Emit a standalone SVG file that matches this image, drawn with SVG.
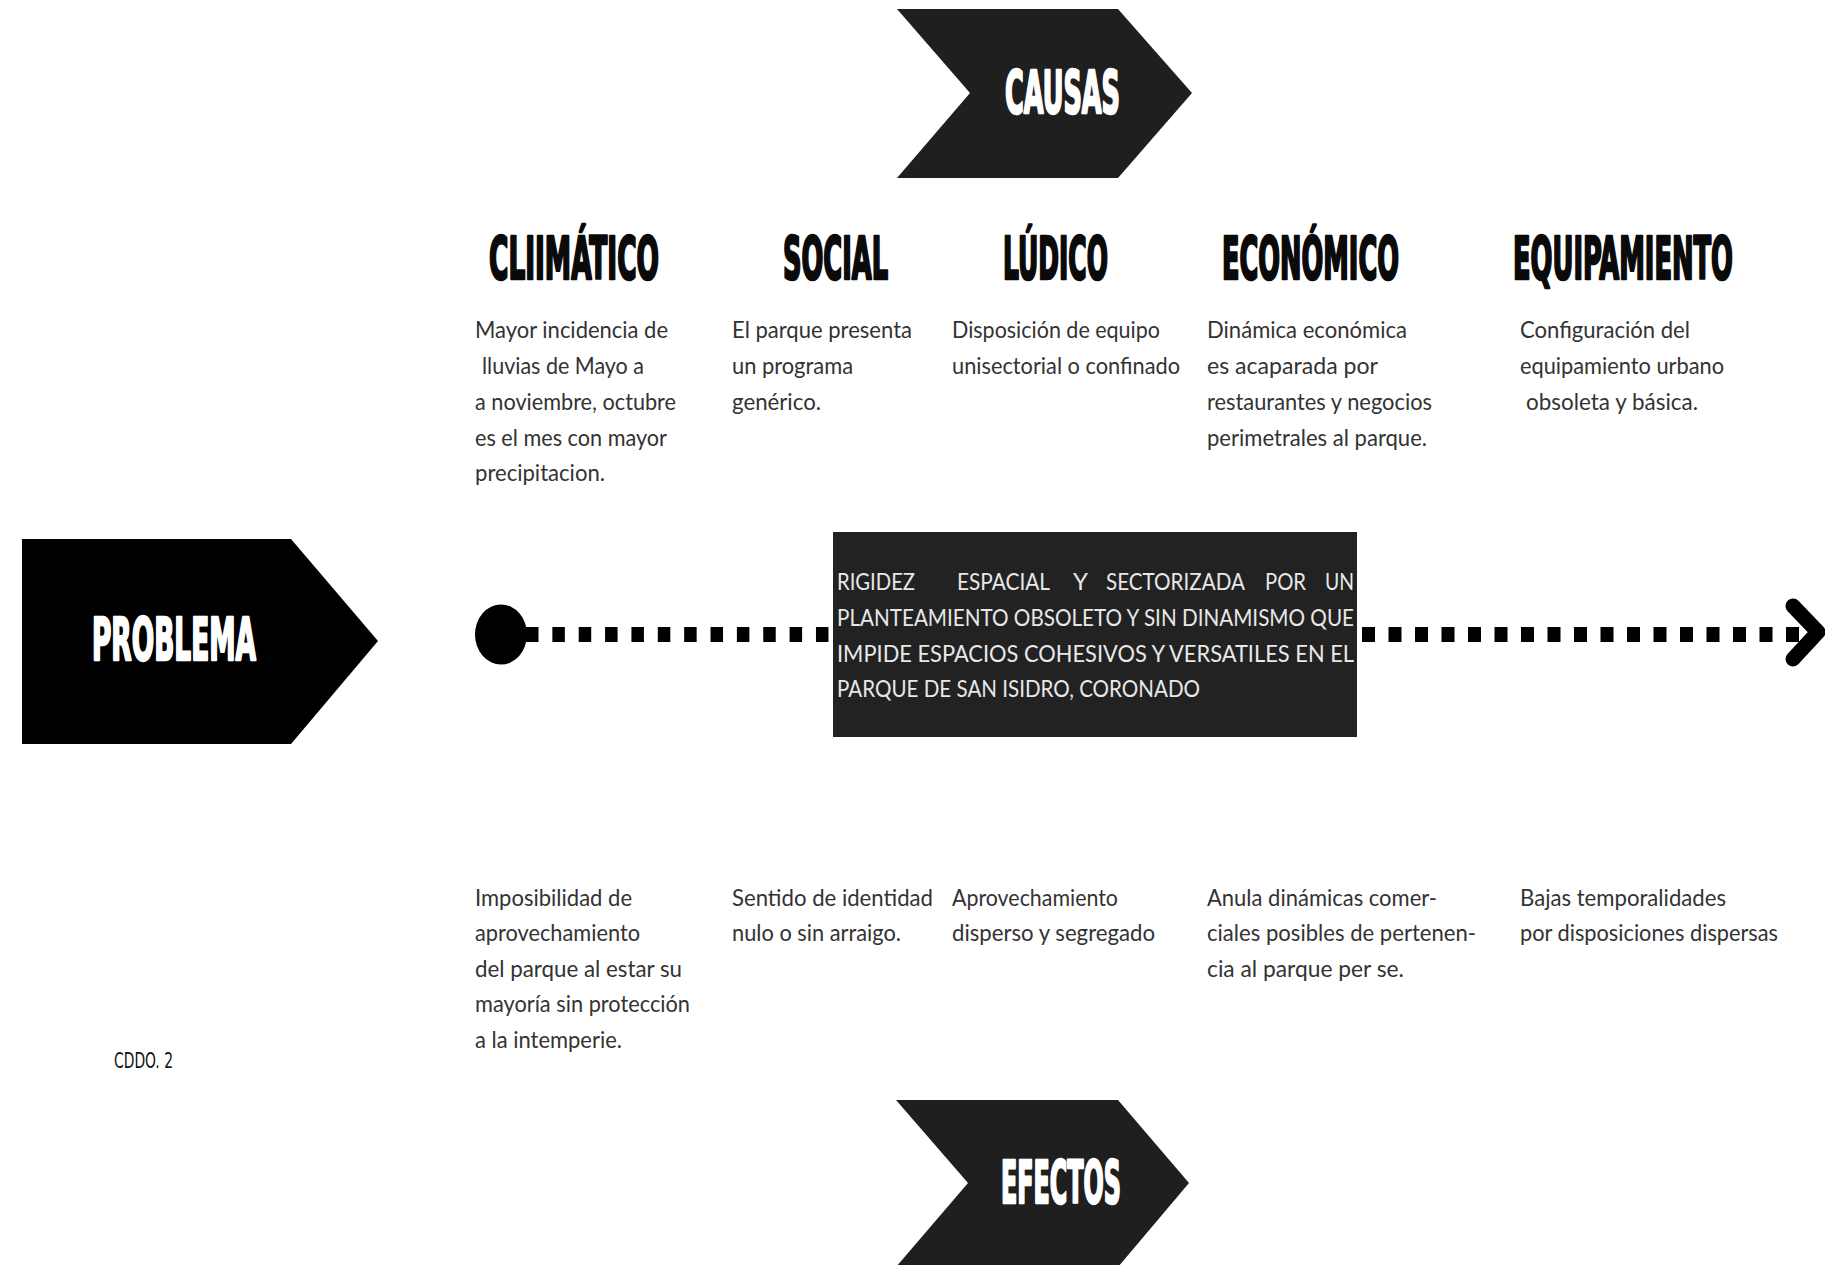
<svg xmlns="http://www.w3.org/2000/svg" width="1825" height="1265" viewBox="0 0 1825 1265">
<style>
.hd{font-family:"DejaVu Sans Condensed","DejaVu Sans",sans-serif;font-stretch:condensed;font-weight:bold;font-size:28px;fill:#0a0a0a;stroke:#0a0a0a;stroke-width:1.3px;stroke-linejoin:round}
.wh{font-family:"DejaVu Sans Condensed","DejaVu Sans",sans-serif;font-stretch:condensed;font-weight:bold;font-size:28px;fill:#ffffff;stroke:#ffffff;stroke-width:1.2px;stroke-linejoin:round}
.bd{font-family:Lato,"Noto Sans",sans-serif;font-size:23px;fill:#333333}
.bx{font-family:Lato,"Noto Sans",sans-serif;font-size:24px;fill:#e8e8e8}
.lb{font-family:"DejaVu Sans Condensed","Liberation Sans",sans-serif;font-stretch:condensed;font-size:22px;fill:#111}
.dash{stroke:#000;stroke-width:15;fill:none}
</style>
<rect width="1825" height="1265" fill="#ffffff"/>

<g id="causas">
<polygon points="897,9 1118,9 1192,93 1118,178 897,178 970,93" fill="#1f1f1f"/>
<text class="wh" transform="translate(1005,113) scale(1,2.07)" textLength="115" lengthAdjust="spacingAndGlyphs">CAUSAS</text>
</g>

<g id="problema">
<polygon points="22,539 291,539 378,641 291,744 22,744" fill="#000"/>
<text class="wh" transform="translate(92,660) scale(1,2.07)" textLength="164" lengthAdjust="spacingAndGlyphs">PROBLEMA</text>
</g>

<g id="efectos">
<polygon points="896,1100 1118,1100 1189,1183 1118,1267 896,1267 968,1183" fill="#1f1f1f"/>
<text class="wh" transform="translate(1001,1203) scale(1,2.07)" textLength="120" lengthAdjust="spacingAndGlyphs">EFECTOS</text>
</g>

<g id="climatico">
<text class="hd" transform="translate(489,279) scale(1,2.07)" textLength="170" lengthAdjust="spacingAndGlyphs">CLIIMÁTICO</text>
<text class="bd" x="475" y="338" textLength="193" lengthAdjust="spacingAndGlyphs">Mayor incidencia de</text>
<text class="bd" x="482" y="374" textLength="162" lengthAdjust="spacingAndGlyphs">lluvias de Mayo a</text>
<text class="bd" x="475" y="410" textLength="201" lengthAdjust="spacingAndGlyphs">a noviembre, octubre</text>
<text class="bd" x="475" y="446" textLength="192" lengthAdjust="spacingAndGlyphs">es el mes con mayor</text>
<text class="bd" x="475" y="481" textLength="130" lengthAdjust="spacingAndGlyphs">precipitacion.</text>
</g>

<g id="social">
<text class="hd" transform="translate(783,279) scale(1,2.07)" textLength="105" lengthAdjust="spacingAndGlyphs">SOCIAL</text>
<text class="bd" x="732" y="338" textLength="180" lengthAdjust="spacingAndGlyphs">El parque presenta</text>
<text class="bd" x="732" y="374" textLength="121" lengthAdjust="spacingAndGlyphs">un programa</text>
<text class="bd" x="732" y="410" textLength="89" lengthAdjust="spacingAndGlyphs">genérico.</text>
</g>

<g id="ludico">
<text class="hd" transform="translate(1003,279) scale(1,2.07)" textLength="105" lengthAdjust="spacingAndGlyphs">LÚDICO</text>
<text class="bd" x="952" y="338" textLength="208" lengthAdjust="spacingAndGlyphs">Disposición de equipo</text>
<text class="bd" x="952" y="374" textLength="228" lengthAdjust="spacingAndGlyphs">unisectorial o confinado</text>
</g>

<g id="economico">
<text class="hd" transform="translate(1222,279) scale(1,2.07)" textLength="177" lengthAdjust="spacingAndGlyphs">ECONÓMICO</text>
<text class="bd" x="1207" y="338" textLength="200" lengthAdjust="spacingAndGlyphs">Dinámica económica</text>
<text class="bd" x="1207" y="374" textLength="171" lengthAdjust="spacingAndGlyphs">es acaparada por</text>
<text class="bd" x="1207" y="410" textLength="225" lengthAdjust="spacingAndGlyphs">restaurantes y negocios</text>
<text class="bd" x="1207" y="446" textLength="220" lengthAdjust="spacingAndGlyphs">perimetrales al parque.</text>
</g>

<g id="equipamiento">
<text class="hd" transform="translate(1513,279) scale(1,2.07)" textLength="220" lengthAdjust="spacingAndGlyphs">EQUIPAMIENTO</text>
<text class="bd" x="1520" y="338" textLength="170" lengthAdjust="spacingAndGlyphs">Configuración del</text>
<text class="bd" x="1520" y="374" textLength="204" lengthAdjust="spacingAndGlyphs">equipamiento urbano</text>
<text class="bd" x="1526" y="410" textLength="172" lengthAdjust="spacingAndGlyphs">obsoleta y básica.</text>
</g>

<g id="connectors">
<ellipse cx="501" cy="634.5" rx="26" ry="30" fill="#000"/>
<line class="dash" x1="526" y1="634.5" x2="831" y2="634.5" stroke-dasharray="12.5 13.86"/>
<line class="dash" x1="1362" y1="634.5" x2="1799" y2="634.5" stroke-dasharray="13 13.5"/>
<polyline points="1793,606 1818,632 1793,659" fill="none" stroke="#000" stroke-width="15" stroke-linecap="round" stroke-linejoin="round"/>
</g>

<g id="problema-box">
<rect x="833" y="532" width="524" height="205" fill="#222222"/>
<text class="bx" x="837" y="590" textLength="78" lengthAdjust="spacingAndGlyphs">RIGIDEZ</text>
<text class="bx" x="957" y="590" textLength="93" lengthAdjust="spacingAndGlyphs">ESPACIAL</text>
<text class="bx" x="1073" y="590">Y</text>
<text class="bx" x="1106" y="590" textLength="139" lengthAdjust="spacingAndGlyphs">SECTORIZADA</text>
<text class="bx" x="1265" y="590" textLength="41" lengthAdjust="spacingAndGlyphs">POR</text>
<text class="bx" x="1325" y="590" textLength="29" lengthAdjust="spacingAndGlyphs">UN</text>
<text class="bx" x="837" y="626" textLength="517" lengthAdjust="spacingAndGlyphs">PLANTEAMIENTO OBSOLETO Y SIN DINAMISMO QUE</text>
<text class="bx" x="837" y="662" textLength="517" lengthAdjust="spacingAndGlyphs">IMPIDE ESPACIOS COHESIVOS Y VERSATILES EN EL</text>
<text class="bx" x="837" y="697" textLength="363" lengthAdjust="spacingAndGlyphs">PARQUE DE SAN ISIDRO, CORONADO</text>
</g>

<g id="efectos-climatico">
<text class="bd" x="475" y="906" textLength="157" lengthAdjust="spacingAndGlyphs">Imposibilidad de</text>
<text class="bd" x="475" y="941" textLength="165" lengthAdjust="spacingAndGlyphs">aprovechamiento</text>
<text class="bd" x="475" y="977" textLength="207" lengthAdjust="spacingAndGlyphs">del parque al estar su</text>
<text class="bd" x="475" y="1012" textLength="215" lengthAdjust="spacingAndGlyphs">mayoría sin protección</text>
<text class="bd" x="475" y="1048" textLength="147" lengthAdjust="spacingAndGlyphs">a la intemperie.</text>
</g>

<g id="efectos-social">
<text class="bd" x="732" y="906" textLength="201" lengthAdjust="spacingAndGlyphs">Sentido de identidad</text>
<text class="bd" x="732" y="941" textLength="169" lengthAdjust="spacingAndGlyphs">nulo o sin arraigo.</text>
</g>

<g id="efectos-ludico">
<text class="bd" x="952" y="906" textLength="166" lengthAdjust="spacingAndGlyphs">Aprovechamiento</text>
<text class="bd" x="952" y="941" textLength="203" lengthAdjust="spacingAndGlyphs">disperso y segregado</text>
</g>

<g id="efectos-economico">
<text class="bd" x="1207" y="906" textLength="230" lengthAdjust="spacingAndGlyphs">Anula dinámicas comer-</text>
<text class="bd" x="1207" y="941" textLength="269" lengthAdjust="spacingAndGlyphs">ciales posibles de pertenen-</text>
<text class="bd" x="1207" y="977" textLength="197" lengthAdjust="spacingAndGlyphs">cia al parque per se.</text>
</g>

<g id="efectos-equipamiento">
<text class="bd" x="1520" y="906" textLength="206" lengthAdjust="spacingAndGlyphs">Bajas temporalidades</text>
<text class="bd" x="1520" y="941" textLength="258" lengthAdjust="spacingAndGlyphs">por disposiciones dispersas</text>
</g>

<g id="label">
<text class="lb" x="114" y="1068" textLength="59" lengthAdjust="spacingAndGlyphs">CDDO. 2</text>
</g>
</svg>
